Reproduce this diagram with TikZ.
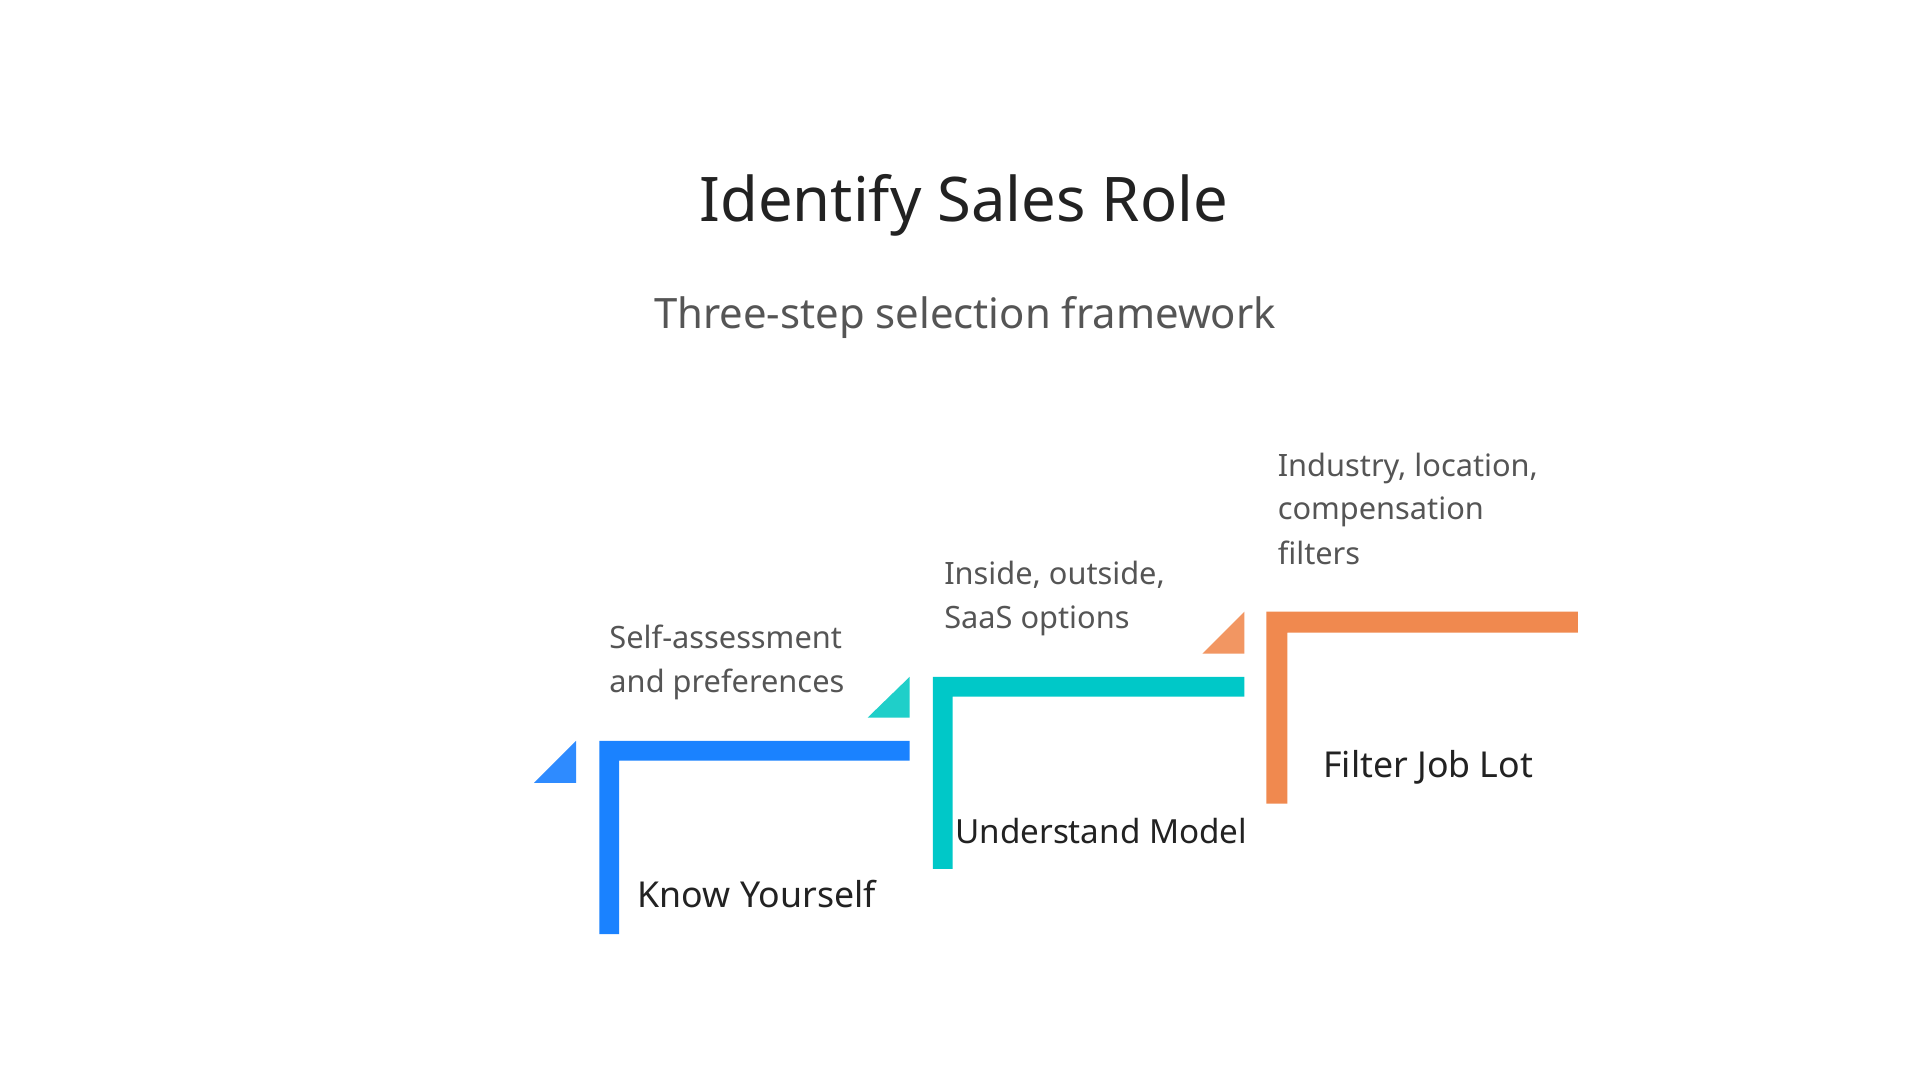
\documentclass[tikz,border=0pt]{standalone}
\usepackage{fontspec}
\setmainfont{Noto Sans}
\definecolor{cblue}{HTML}{1A82FF}
\definecolor{tblue}{HTML}{2E8BFF}
\definecolor{cteal}{HTML}{00C8C8}
\definecolor{tteal}{HTML}{1FCFC9}
\definecolor{corange}{HTML}{F0894F}
\definecolor{torange}{HTML}{F29662}
\definecolor{dark}{HTML}{222222}
\definecolor{grey}{HTML}{555555}
\begin{document}
\begin{tikzpicture}[x=1pt,y=-1pt,
  lab/.style={inner sep=0,anchor=base west,text=dark,font=\fontsize{29}{34}\selectfont\bfseries},
  desc/.style={inner sep=0,anchor=base west,text=grey,font=\fontsize{25}{30}\selectfont}]
\useasboundingbox[fill=white] (0,0) rectangle (1560,878);
\node[inner sep=0,text=dark,font=\fontsize{50}{60}\selectfont] (title) at (783,167) {Identify Sales Role};
\node[inner sep=0,text=grey,font=\fontsize{34}{40}\selectfont] (sub) at (784,258) {Three-step selection framework};
% blue
\fill[cblue] (487,759) -- (487,602) -- (739,602) -- (739,618) -- (503,618) -- (503,759) -- cycle;
\fill[tblue] (434,636) -- (468,636) -- (468,602) -- cycle;
% teal
\fill[cteal] (758,706) -- (758,550) -- (1011,550) -- (1011,566) -- (774,566) -- (774,706) -- cycle;
\fill[tteal] (705,583) -- (739,583) -- (739,550) -- cycle;
% orange
\fill[corange] (1029,653) -- (1029,497) -- (1282,497) -- (1282,514) -- (1046,514) -- (1046,653) -- cycle;
\fill[torange] (977,531) -- (1011,531) -- (1011,497) -- cycle;
\node[lab] (l1) at (518,737) {Know Yourself};
\node[lab,font=\fontsize{27}{32}\selectfont\bfseries] (l2) at (776,685) {Understand Model};
\node[lab] (l3) at (1075,632) {Filter Job Lot};
\node[desc] (d1a) at (495,527) {Self-assessment};
\node[desc] (d1b) at (495,563) {and preferences};
\node[desc] (d2a) at (767,475) {Inside, outside,};
\node[desc] (d2b) at (767,511) {SaaS options};
\node[desc] (d3a) at (1038,387) {Industry, location,};
\node[desc] (d3b) at (1038,422) {compensation};
\node[desc] (d3c) at (1038,459) {filters};
\end{tikzpicture}
\end{document}
